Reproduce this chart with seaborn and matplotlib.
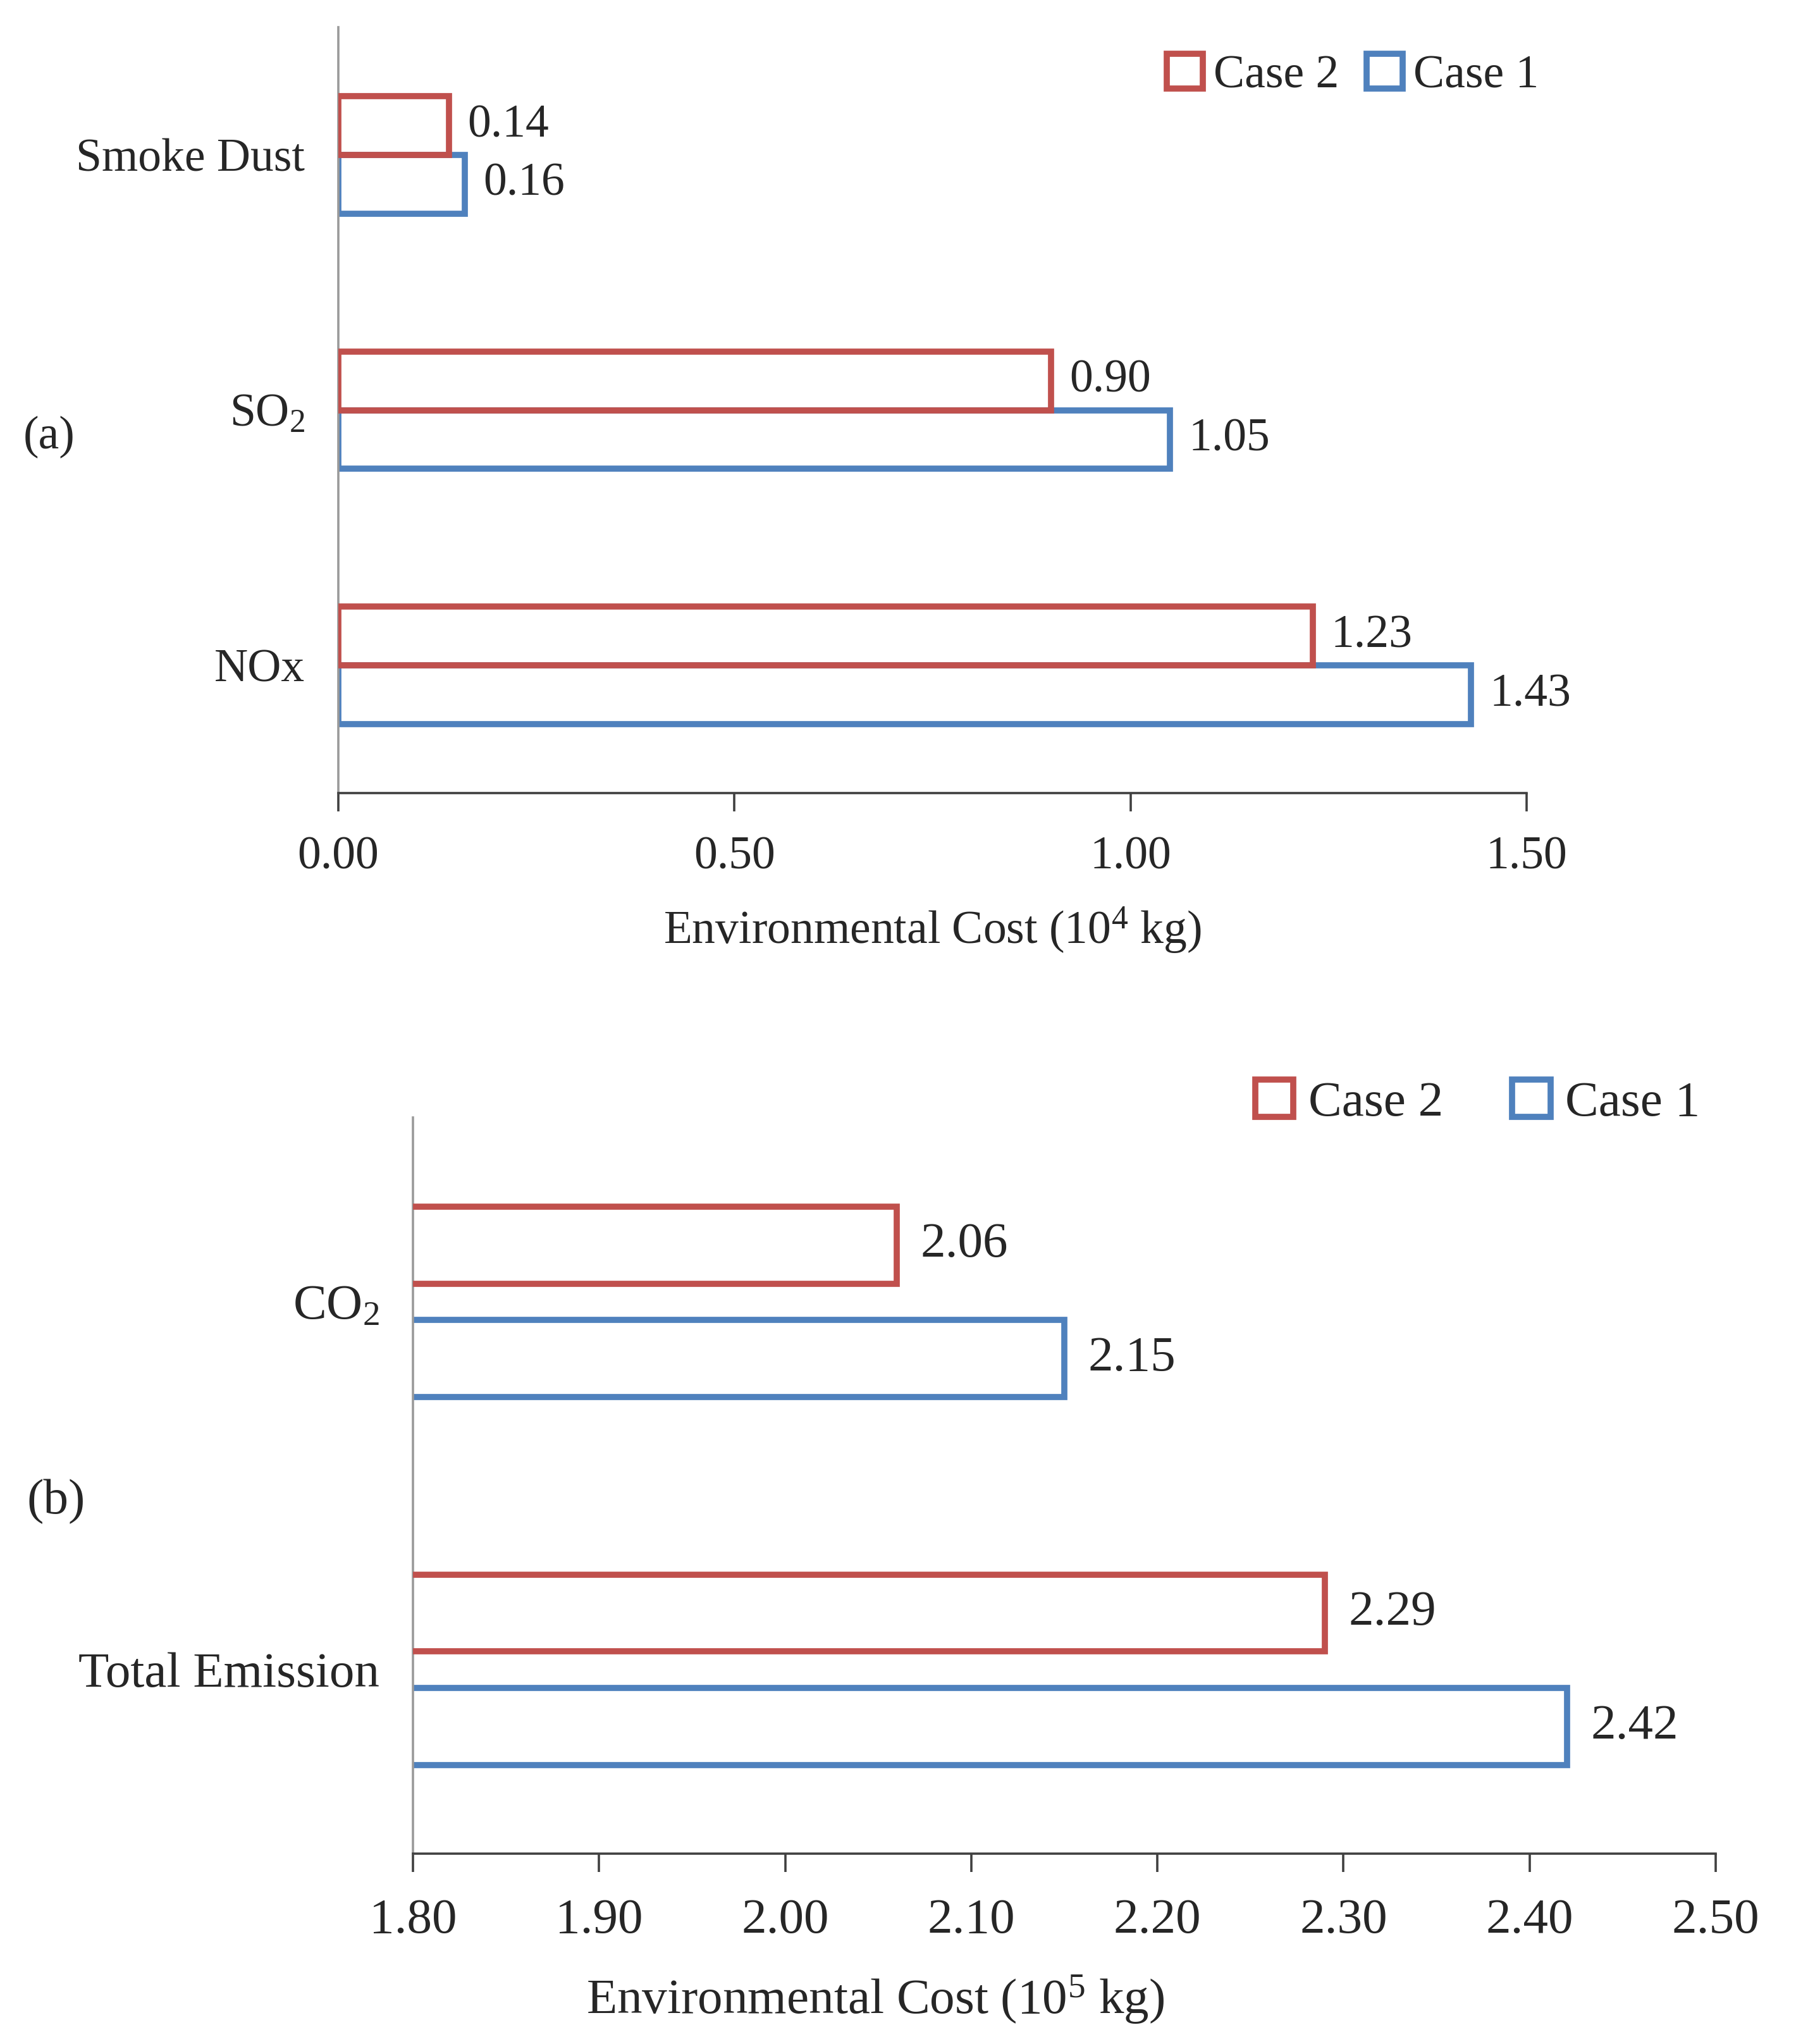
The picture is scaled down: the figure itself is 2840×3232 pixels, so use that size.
import pandas as pd
import matplotlib.pyplot as plt
import seaborn as sns

# data
pollutants_a = ['Smoke Dust', 'SO$_2$', 'NOx']
case2_a = [0.14, 0.90, 1.23]
case1_a = [0.16, 1.05, 1.43]

pollutants_b = ['CO$_2$', 'Total Emission']
case2_b = [2.06, 2.29]
case1_b = [2.15, 2.42]

cases = ['Case 2', 'Case 1']
colors = {'Case 2': '#C0504D', 'Case 1': '#4F81BD'}


def long_table(names, c2, c1):
    return pd.DataFrame({
        'pollutant': names + names,
        'case': ['Case 2'] * len(names) + ['Case 1'] * len(names),
        'value': c2 + c1,
    })


df_a = long_table(pollutants_a, case2_a, case1_a)
df_b = long_table(pollutants_b, case2_b, case1_b)

sns.set_theme(style='white')
plt.rcParams['font.family'] = ['Liberation Serif', 'DejaVu Serif']
plt.rcParams['mathtext.default'] = 'regular'

fig = plt.figure(figsize=(28.4, 32.32), dpi=100)
ax_a = fig.add_axes([0.1884, 0.6120, 0.6616, 0.3747])
ax_b = fig.add_axes([0.2299, 0.0931, 0.7254, 0.3601])


def draw_panel(ax, df, order, width, gap, fs, xlim, xticks, xlabel, label_pad, tick_pad, xlabel_pad, xlabel_x):
    sns.barplot(data=df, x='value', y='pollutant', hue='case', order=order,
                hue_order=cases, palette=colors, fill=False, linewidth=7,
                width=width, gap=gap, errorbar=None, ax=ax)
    # red bars sit on top of the shared edge
    for p in ax.containers[0]:
        p.set_zorder(3)
    for cont in ax.containers:
        ax.bar_label(cont, fmt='%.2f', padding=label_pad, fontsize=fs)
    ax.set_xlim(*xlim)
    ax.set_xticks(xticks)
    ax.set_xticklabels([f'{t:.2f}' for t in xticks])
    ax.set_ylim(len(order) - 0.5, -0.5)
    ax.set_xlabel(xlabel, fontsize=fs, labelpad=xlabel_pad)
    ax.xaxis.label.set_x(xlabel_x)
    ax.set_ylabel('')
    for s in ['top', 'right']:
        ax.spines[s].set_visible(False)
    ax.spines['left'].set_color('#9A9A9A')
    ax.spines['left'].set_linewidth(2.6)
    ax.spines['bottom'].set_color('#404040')
    ax.spines['bottom'].set_linewidth(2.6)
    ax.tick_params(axis='x', direction='out', length=21, width=2.6, color='#404040',
                   labelsize=fs, pad=tick_pad, bottom=True)
    ax.tick_params(axis='y', length=0, labelsize=fs, pad=38)
    ax.get_legend().remove()


draw_panel(ax_a, df_a, pollutants_a, 0.46, 0, 53, (0, 1.5), [0, 0.5, 1.0, 1.5],
           'Environmental Cost (10$^4$ kg)', 21, 28, 30, 0.5)
draw_panel(ax_b, df_b, pollutants_b, 0.616, 0.32, 57, (1.8, 2.5),
           [1.8, 1.9, 2.0, 2.1, 2.2, 2.3, 2.4, 2.5],
           'Environmental Cost (10$^5$ kg)', 27, 30, 34, 0.355)

# legends
h, l = ax_a.get_legend_handles_labels()
fig.legend(h[:2], l[:2], ncol=2, frameon=False, fontsize=53, loc='center left',
           bbox_to_anchor=(1845 / 2840, 1 - 120 / 3232), borderpad=0, borderaxespad=0,
           handlelength=0.77, handleheight=0.77, handletextpad=0.23, columnspacing=0.6)
h, l = ax_b.get_legend_handles_labels()
fig.legend(h[:2], l[:2], ncol=2, frameon=False, fontsize=57, loc='center left',
           bbox_to_anchor=(1985 / 2840, 1 - 1744 / 3232), borderpad=0, borderaxespad=0,
           handlelength=0.76, handleheight=0.76, handletextpad=0.3, columnspacing=1.38)

fig.text(37 / 2840, 1 - 691 / 3232, '(a)', fontsize=53, va='center', ha='left')
fig.text(43 / 2840, 1 - 2375 / 3232, '(b)', fontsize=57, va='center', ha='left')

fig.savefig('out.png', dpi=100, facecolor='white')
